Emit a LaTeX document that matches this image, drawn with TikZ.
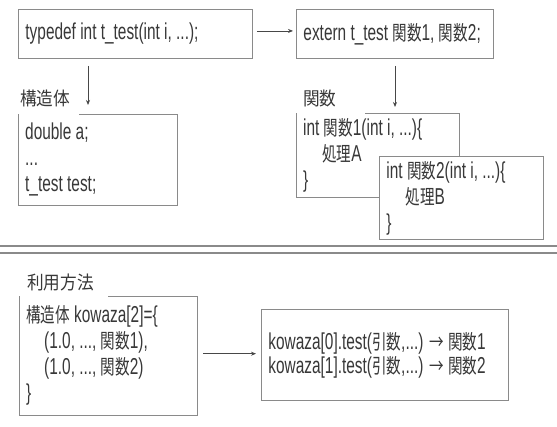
\documentclass[tikz,border=0pt]{standalone}
\usepackage{fontspec}
\setmainfont[FakeStretch=0.67]{Liberation Sans}
\newfontfamily\cjk[FakeStretch=0.72,Scale=0.88]{Noto Sans CJK JP}
\newfontfamily\cjkhead[FakeStretch=0.9]{Noto Sans CJK JP}
\newcommand{\jp}[1]{{\cjk #1}}
\usepackage{tikz}
\usetikzlibrary{positioning, arrows.meta}
\definecolor{cText}{HTML}{383838}
\definecolor{cLine}{HTML}{8A8A8A}
\definecolor{cArrow}{HTML}{474747}

\begin{document}
\begin{tikzpicture}[x=1pt, y=-1pt,
  font=\fontsize{23}{26}\selectfont, text=cText,
  >={Stealth[length=5pt,width=4pt]},
  codebox/.style={anchor=north west, align=flush left, inner xsep=7pt, inner ysep=0pt},
  framed/.style={draw=cLine, line width=0.9pt, fill=white},
  rim/.style={draw=cLine, line width=0.9pt},
  ttl/.style={font=\fontsize{18.5}{22}\selectfont\cjkhead, inner sep=0pt},
  flow/.style={->, line width=0.8pt, draw=cArrow},
  sep/.style={draw=cLine, line width=1.1pt}
]
\path[fill=white, use as bounding box] (0,0) rectangle (557,427);

% declaration row
\node[codebox, framed, text width=220pt, minimum height=49pt] (tdef) at (18,9)
  {typedef int t\_test(int i, ...);};
\node[codebox, framed, text width=183pt, minimum height=49pt] (ext) at (296,9)
  {extern t\_test \jp{関数}1, \jp{関数}2;};

% struct and functions
\node[codebox, text width=145pt, minimum height=91pt] (st) at (18,114)
  {double a;\\...\\t\_test test;};
\draw[rim] ([xshift=61pt]st.north west) -| (st.south east) -| (st.north west);
\node[ttl, above right=7pt and 2pt of st.north west] (stl) {構造体};

\node[codebox, text width=149pt, minimum height=84pt] (fa) at (296,113)
  {int \jp{関数}1(int i, ...)\{\\\hspace*{19pt}\jp{処理}A\\\}};
\draw[rim] ([xshift=69pt]fa.north west) -| (fa.south east) -| (fa.north west);
\node[ttl, above right=6pt and 7pt of fa.north west] (fal) {関数};
\node[codebox, framed, text width=150pt, minimum height=83pt] (fb) at (379,156)
  {int \jp{関数}2(int i, ...)\{\\\hspace*{19pt}\jp{処理}B\\\}};

\draw[flow] ([yshift=3pt]tdef.east) ++(4pt,0) -- ([yshift=3pt,xshift=-3pt]ext.west);
\draw[flow, shorten <=7pt, shorten >=9pt] ([xshift=70pt]tdef.south west) -- ([xshift=70pt]st.north west);
\draw[flow, shorten <=7pt, shorten >=6pt] ([xshift=99pt]ext.south west) -- ([xshift=99pt]fa.north west);

\draw[sep] (0,246) -- (557,246);
\draw[sep] (0,253) -- (557,253);

% usage
\node[codebox, text width=164pt, minimum height=119pt] (use) at (19,296)
  {\jp{構造体} kowaza[2]=\{\\\hspace*{18pt}(1.0, ..., \jp{関数}1),\\\hspace*{18pt}(1.0, ..., \jp{関数}2)\\\}};
\draw[rim] ([xshift=89pt]use.north west) -| (use.south east) -| (use.north west);
\node[ttl, above right=5pt and 8pt of use.north west] (usel) {利用方法};
\node[codebox, framed, font=\fontsize{23}{24}\selectfont, text width=233pt, minimum height=91pt] (call) at (261,309)
  {kowaza[0].test(\jp{引数},...) \jp{→} \jp{関数}1\\kowaza[1].test(\jp{引数},...) \jp{→} \jp{関数}2};

\draw[flow, shorten <=6pt, shorten >=5pt] ([yshift=2pt]use.east) -- ([yshift=2pt]use.east -| call.west);
\end{tikzpicture}
\end{document}
